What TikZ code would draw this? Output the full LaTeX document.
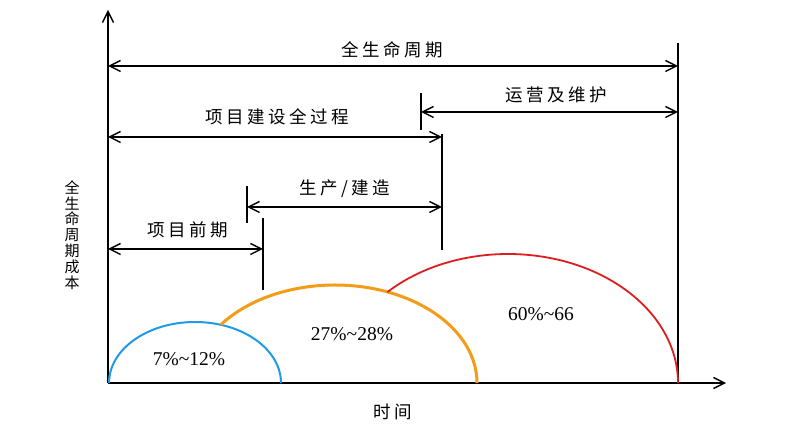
\documentclass[tikz,border=0pt]{standalone}
\usepackage{fontspec}
\setmainfont{Liberation Serif}
\newfontfamily\cjk[LetterSpace=20]{Noto Sans CJK SC}
\newfontfamily\cjkv{Noto Sans CJK SC}
\usetikzlibrary{arrows.meta,calc}
\definecolor{arcblue}{RGB}{30,155,230}
\definecolor{arcorange}{RGB}{243,156,24}
\definecolor{arcred}{RGB}{222,30,30}
\tikzset{
  ln/.style={line width=1.4pt, black},
  dbl/.style={ln, {Straight Barb[length=11pt,width=11pt]}-{Straight Barb[length=11pt,width=11pt]}},
  sgl/.style={ln, -{Straight Barb[length=11pt,width=11pt]}},
  cjklab/.style={font=\cjk\fontsize{17.5}{20}\selectfont, inner sep=0pt},
  pct/.style={font=\fontsize{19.5}{22}\selectfont, inner sep=0pt},
}
\begin{document}
\begin{tikzpicture}[x=1pt,y=1pt]
\useasboundingbox[fill=white] (0,0) rectangle (800,428);
% axes
\coordinate (O) at (108,45);
\coordinate (Ytop) at (108,418);
\coordinate (Xend) at (726,45);
\draw[sgl] (O) -- (Ytop);
\draw[sgl] (O) -- (Xend);
% verticals
\coordinate (V1t) at (678,385); \coordinate (V1b) at (678,45);
\draw[ln] (V1t) -- (V1b);
\coordinate (V2t) at (421,335); \coordinate (V2b) at (421,298);
\draw[ln] (V2t) -- (V2b);
\coordinate (V3t) at (442,294); \coordinate (V3b) at (442,178);
\draw[ln] (V3t) -- (V3b);
\coordinate (V4t) at (247,242); \coordinate (V4b) at (247,205);
\draw[ln] (V4t) -- (V4b);
\coordinate (V5t) at (263,210); \coordinate (V5b) at (263,138);
\draw[ln] (V5t) -- (V5b);
% dimension arrows
\coordinate (A1l) at (108,362); \coordinate (A1r) at (678,362);
\draw[dbl] (A1l) -- (A1r);
\coordinate (A2l) at (421,316); \coordinate (A2r) at (678,316);
\draw[dbl] (A2l) -- (A2r);
\coordinate (A3l) at (108,291); \coordinate (A3r) at (442,291);
\draw[dbl] (A3l) -- (A3r);
\coordinate (A4l) at (247,221); \coordinate (A4r) at (442,221);
\draw[dbl] (A4l) -- (A4r);
\coordinate (A5l) at (108,179); \coordinate (A5r) at (263,179);
\draw[dbl] (A5l) -- (A5r);
% labels
\node[cjklab] (L1) at (392,378) {全生命周期};
\node[cjklab] (L2) at (556,333) {运营及维护};
\node[cjklab] (L3) at (277,311) {项目建设全过程};
\node[cjklab] (L4) at (345,239) {生产/建造};
\node[cjklab] (L5) at (188,198) {项目前期};
\node[cjklab] (LT) at (393,16) {时间};
\node[inner sep=0pt, font=\cjkv\fontsize{15}{15.8}\selectfont, align=center] (LY) at (72,193)
  {全\\生\\命\\周\\期\\成\\本};
% arcs
\coordinate (Bs) at (109,45);
\coordinate (Os) at ($(335,45)+(143.5:142 and 98)$);
\coordinate (Rs) at ($(508,45)+(135.2:170 and 129)$);
\draw[arcblue, line width=2pt] (Bs) arc[start angle=180, end angle=0, x radius=86, y radius=61];
\draw[arcorange, line width=3pt] (Os) arc[start angle=143.5, end angle=0, x radius=142, y radius=98];
\draw[arcred, line width=1.8pt] (Rs) arc[start angle=135.2, end angle=0, x radius=170, y radius=129];
% percentages
\node[pct] (P1) at (189,69) {7\%\textasciitilde12\%};
\node[pct] (P2) at (352,94) {27\%\textasciitilde28\%};
\node[pct] (P3) at (541,114) {60\%\textasciitilde66};
\end{tikzpicture}
\end{document}
